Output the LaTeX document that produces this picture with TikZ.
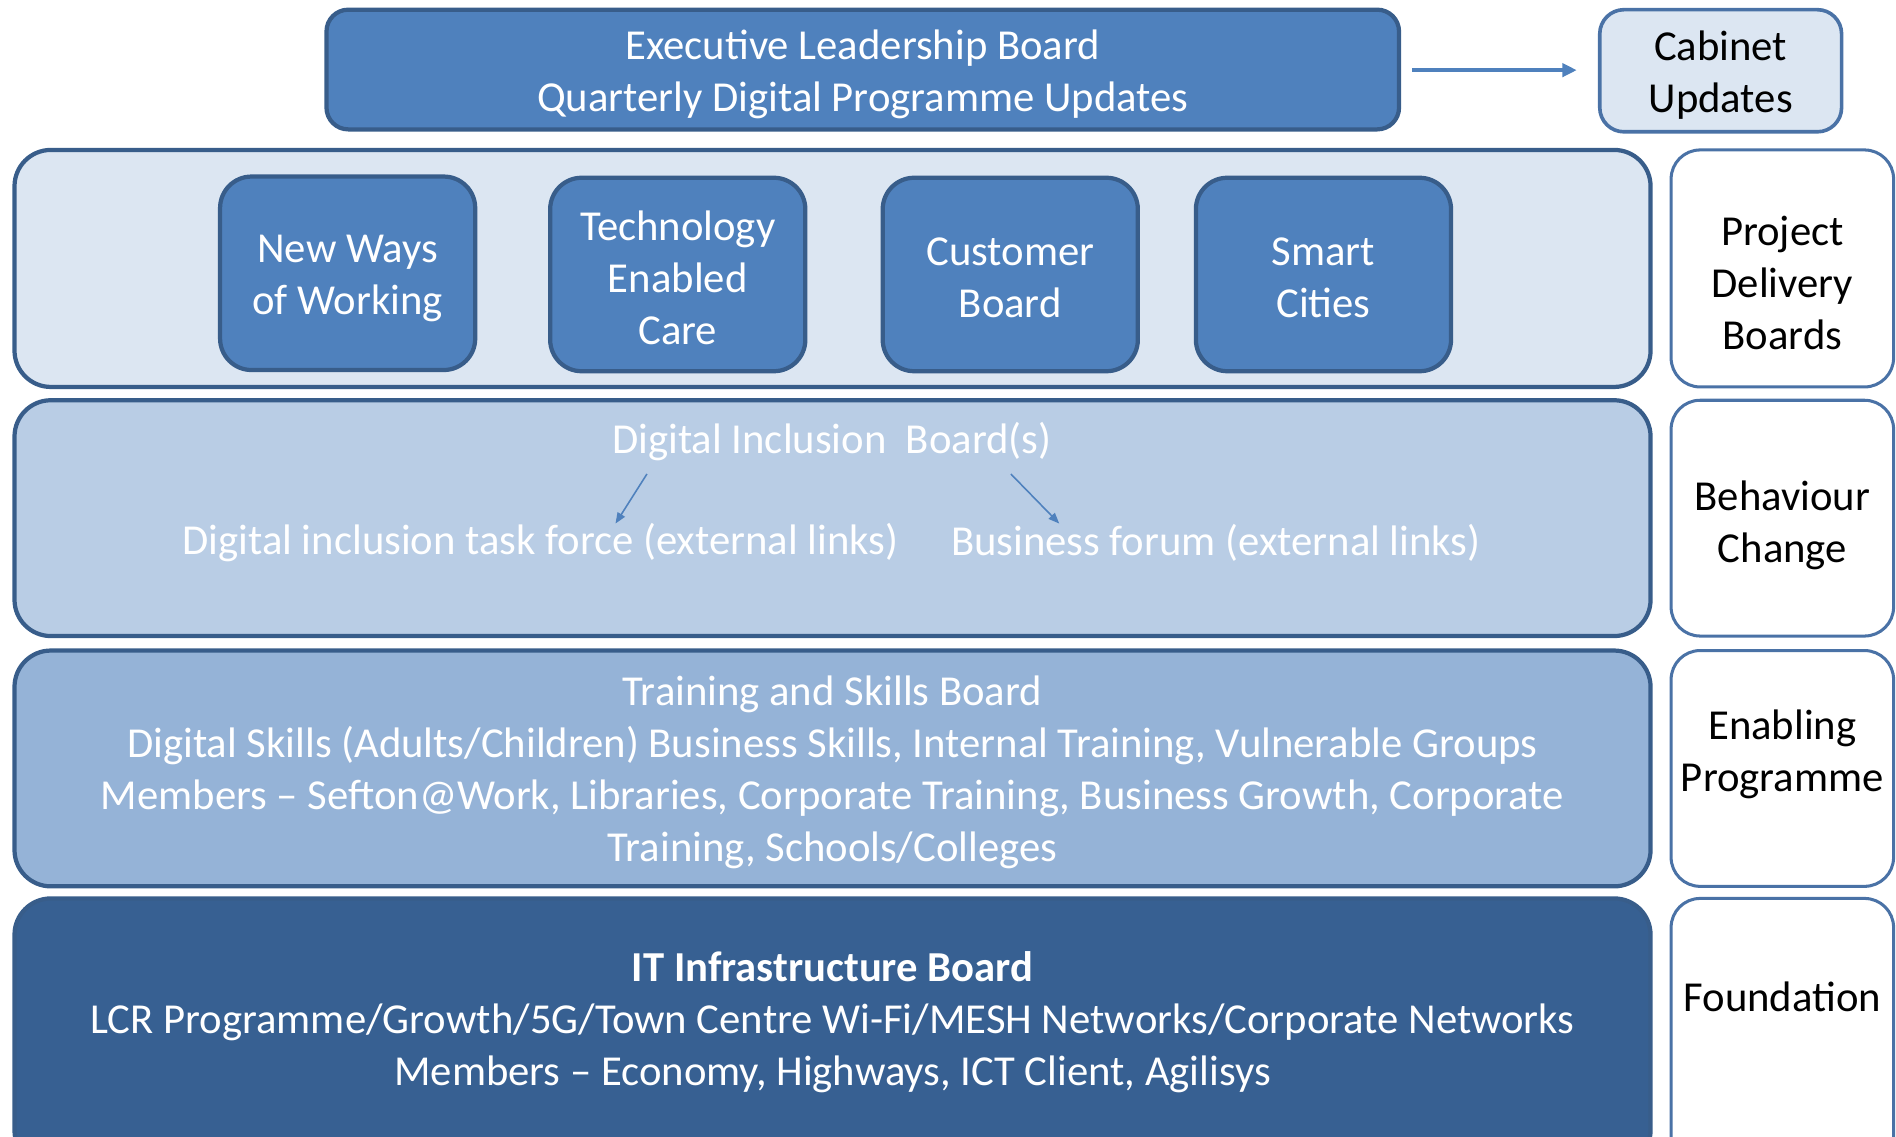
\documentclass[tikz,border=0pt]{standalone}
\usepackage{fontspec}
\setmainfont{Carlito}
\usetikzlibrary{arrows.meta}
\definecolor{midblue}{HTML}{4F81BD}
\definecolor{edgeblue}{HTML}{385D8A}
\definecolor{paleblue}{HTML}{DCE6F2}
\definecolor{lightblue}{HTML}{B9CDE5}
\definecolor{softblue}{HTML}{95B3D7}
\definecolor{deepblue}{HTML}{376092}
\definecolor{sideblue}{HTML}{4A72A6}
\tikzset{
  lbl/.style={font=\fontsize{35.3}{43}\selectfont, align=center, inner sep=0pt},
  panel/.style={rectangle, draw=edgeblue, line width=3.5pt, inner sep=0pt},
  darkbox/.style={panel, fill=midblue, text=white, rounded corners=18pt},
  subbox/.style={panel, fill=midblue, text=white, rounded corners=26pt,
    minimum width=211pt, minimum height=160pt},
  rowbox/.style={panel, rounded corners=30pt, minimum width=1353pt},
  sidebox/.style={rectangle, draw=sideblue, line width=2.5pt, fill=white,
    rounded corners=24pt, minimum width=184pt, inner sep=0pt},
  wtext/.style={lbl, text=white},
  btext/.style={lbl, text=black},
  thinarrow/.style={draw=midblue, line width=1.3pt, -{Triangle[length=9pt,width=7pt]}},
  thickarrow/.style={draw=midblue, line width=3pt, -{Triangle[length=12pt,width=11pt]}}
}
\begin{document}
\begin{tikzpicture}[x=1pt,y=-1pt]
\useasboundingbox (0,0) rectangle (1568,940);
\clip (0,0) rectangle (1568,940);
% top row
\node[darkbox, minimum width=887pt, minimum height=99pt] (exec) at (713.5,57.5) {};
\node[wtext] (exectxt) at (713.5,61.5) {Executive Leadership Board\\Quarterly Digital Programme Updates};
\node[panel, draw=sideblue, line width=3pt, fill=paleblue, rounded corners=20pt,
      minimum width=200pt, minimum height=101pt] (cabinet) at (1423,58.5) {};
\node[btext] (cabtxt) at (1423,62) {Cabinet\\Updates};
\coordinate (arrs) at (1168,58);
\coordinate (arre) at (1304,58);
\draw[thickarrow] (arrs) -- (arre);
% project delivery row
\node[rowbox, fill=paleblue, minimum height=196pt] (projrow) at (688.5,222) {};
\node[subbox] (nww) at (287.5,226) {};
\node[wtext] (nwwtxt) at (287.5,230) {New Ways\\of Working};
\node[subbox] (tec) at (560.5,227) {};
\node[wtext] (tectxt) at (560.5,230) {Technology\\Enabled\\Care};
\node[subbox] (cust) at (835.5,227) {};
\node[wtext] (custtxt) at (835.5,230) {Customer\\Board};
\node[subbox] (smart) at (1094.5,227) {};
\node[wtext] (smarttxt) at (1094.5,230) {Smart\\Cities};
\node[sidebox, minimum height=196pt] (pdb) at (1474,222) {};
\node[btext] (pdbtxt) at (1474,234) {Project\\Delivery\\Boards};
% behaviour row
\node[rowbox, fill=lightblue, minimum height=195pt] (behrow) at (688.5,428.5) {};
\node[wtext] (dib) at (688,365.5) {Digital Inclusion\ \ Board(s)};
\node[wtext] (ditf) at (447,449) {Digital inclusion task force (external links)};
\node[wtext] (bf) at (1005.5,449) {Business forum (external links)};
\coordinate (a1s) at (535,392);
\coordinate (a1e) at (509,433);
\coordinate (a2s) at (836,392);
\coordinate (a2e) at (876,433);
\draw[thinarrow] (a1s) -- (a1e);
\draw[thinarrow] (a2s) -- (a2e);
\node[sidebox, minimum height=195pt] (bc) at (1474,428.5) {};
\node[btext] (bctxt) at (1474,434.5) {Behaviour\\Change};
% enabling row
\node[rowbox, fill=softblue, minimum height=195pt] (enrow) at (688.5,635.5) {};
\node[wtext] (tsb) at (688.5,638.5) {Training and Skills Board\\Digital Skills (Adults/Children) Business Skills, Internal Training, Vulnerable Groups\\Members -- Sefton@Work, Libraries, Corporate Training, Business Growth, Corporate\\Training, Schools/Colleges};
\node[sidebox, minimum height=195pt] (ep) at (1474,635.5) {};
\node[btext] (eptxt) at (1474,623.5) {Enabling\\Programme};
% foundation row
\node[rowbox, fill=deepblue, minimum height=222pt] (fdrow) at (688.5,854) {};
\node[wtext] (itb) at (688.5,845) {\textbf{IT Infrastructure Board}\\LCR Programme/Growth/5G/Town Centre Wi-Fi/MESH Networks/Corporate Networks\\Members -- Economy, Highways, ICT Client, Agilisys};
\node[sidebox, minimum height=222pt] (fd) at (1474,854) {};
\node[btext] (fdtxt) at (1474,824) {Foundation};
\end{tikzpicture}
\end{document}
